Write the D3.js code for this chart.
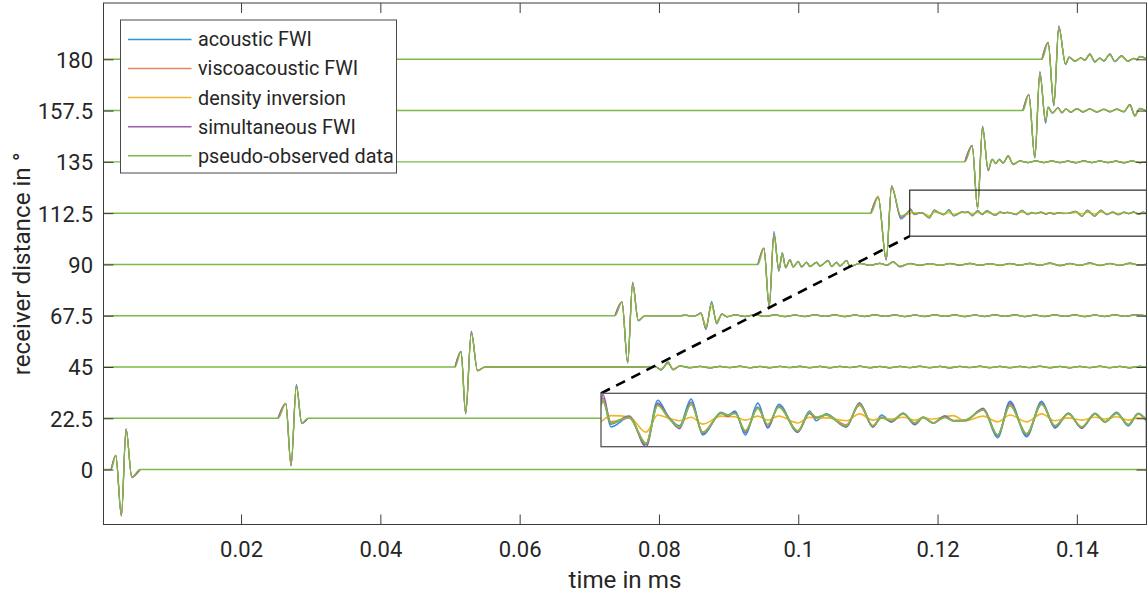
<!DOCTYPE html>
<html>
<head>
<meta charset="utf-8">
<script src="https://cdn.jsdelivr.net/npm/d3@7"></script>
<style>
  html, body { margin: 0; padding: 0; background: #fff; }
  svg { display: block; font-family: Roboto, "Liberation Sans", sans-serif; }
</style>
</head>
<body>
<svg id="chart" width="1147" height="601"></svg>
<script>
// ---------------------------------------------------------------------------
// Seismogram comparison: traces recorded at receivers 0..180 degrees.
// Each trace table row: [time (ms), acoustic, viscoacoustic, density,
//                        simultaneous, pseudo-observed] amplitudes.
// Amplitudes are in trace units; ampScale converts them to degrees of offset.
// ---------------------------------------------------------------------------
const seriesNames = ["acoustic FWI", "viscoacoustic FWI", "density inversion",
                     "simultaneous FWI", "pseudo-observed data"];
const seriesColors = ["#2d93dc", "#e8865e", "#f2b428", "#9c5bb0", "#7dba48"];

const offsets = [0, 22.5, 45, 67.5, 90, 112.5, 135, 157.5, 180];
const yTicks = [0, 22.5, 45, 67.5, 90, 112.5, 135, 157.5, 180];
const xTicks = [0.02, 0.04, 0.06, 0.08, 0.1, 0.12, 0.14];
const timeRange = [0.00025, 0.15];
const offsetRange = [-24.1, 204.7];
const ampScale = 0.439;

const trace0 = [
  [0.00025, 0, 0, 0, 0, 0],
  [0.00134, 0, 0, 0, 0, 0],
  [0.00201, 14.2, 14, 14.5, 14, 14],
  [0.00282, -46.5, -46, -46, -46.2, -46],
  [0.00349, 41, 40, 40, 40.5, 40],
  [0.00431, -7.7, -7.5, -7, -7.5, -7.5],
  [0.00550, 0, 0, 0, 0, 0],
  [0.15, 0, 0, 0, 0, 0]
];

const trace22_5 = [
  [0.00025, 0, 0, 0, 0, 0],
  [0.02531, 0, 0, 0, 0, 0],
  [0.02642, 15, 14.7, 15, 14.7, 14.7],
  [0.02718, -47.5, -47, -47, -47.2, -47],
  [0.02794, 34, 32.5, 32, 33, 32],
  [0.02871, -5, -4.7, -4.5, -4.8, -4.7],
  [0.02962, 0, 0, 0, 0, 0],
  [0.15, 0, 0, 0, 0, 0]
];

const trace45 = [
  [0.00025, 0, 0, 0, 0, 0],
  [0.05072, 0, 0, 0, 0, 0],
  [0.05158, 15.6, 15.3, 15.6, 15.4, 15.3],
  [0.05225, -47, -46.2, -46, -46.5, -46],
  [0.05306, 36, 34.2, 33.5, 34.8, 34],
  [0.05395, -4, -3.6, -3.2, -3.7, -3.5],
  [0.05502, 0, 0, 0, 0, 0],
  [0.07727, 0, 0, 0, 0, 0],
  [0.07943, 0.6, 0.5, 0.5, 0.5, 0.5],
  [0.08030, -3.2, -2.6, -1.8, -2.8, -2.5],
  [0.08131, 5.2, 4.4, 3, 4.7, 4.3],
  [0.08203, -2.9, -2.5, -1.6, -2.7, -2.5],
  [0.08301, 1.2, 1, 0.9, 1, 1],
  [0.08445, -0.9, -0.6, -0.2, -0.7, -0.6],
  [0.08589, 0.8, 0.6, 0.6, 0.7, 0.6],
  [0.08732, -1.0, -0.8, -0.3, -0.8, -0.7],
  [0.08876, 0.7, 0.6, 0.7, 0.6, 0.5],
  [0.09019, -0.7, -0.5, -0.4, -0.6, -0.5],
  [0.09163, 0.9, 0.7, 0.3, 0.8, 0.7],
  [0.09306, -0.8, -0.6, -0.5, -0.7, -0.6],
  [0.09450, 0.6, 0.5, 0.6, 0.5, 0.5],
  [0.09593, -0.9, -0.7, -0.2, -0.7, -0.6],
  [0.09737, 0.8, 0.6, 0.5, 0.6, 0.6],
  [0.09880, -0.6, -0.5, -0.5, -0.5, -0.5],
  [0.10024, 0.9, 0.7, 0.4, 0.7, 0.6],
  [0.10168, -0.8, -0.6, -0.3, -0.7, -0.6],
  [0.10311, 0.7, 0.6, 0.6, 0.6, 0.5],
  [0.10455, -0.9, -0.7, -0.4, -0.8, -0.7],
  [0.10598, 0.8, 0.6, 0.3, 0.7, 0.6],
  [0.10742, -0.6, -0.5, -0.5, -0.5, -0.4],
  [0.10885, 0.9, 0.7, 0.5, 0.8, 0.7],
  [0.11029, -0.8, -0.6, -0.2, -0.7, -0.6],
  [0.11172, 0.6, 0.5, 0.6, 0.5, 0.5],
  [0.11316, -0.9, -0.7, -0.4, -0.8, -0.7],
  [0.11459, 0.8, 0.7, 0.4, 0.7, 0.6],
  [0.11603, -0.7, -0.6, -0.5, -0.6, -0.5],
  [0.11746, 0.9, 0.7, 0.3, 0.8, 0.7],
  [0.11890, -0.8, -0.6, -0.4, -0.7, -0.6],
  [0.12034, 0.7, 0.5, 0.6, 0.6, 0.5],
  [0.12177, -1.0, -0.8, -0.3, -0.8, -0.7],
  [0.12321, 0.8, 0.6, 0.5, 0.7, 0.6],
  [0.12464, -0.6, -0.5, -0.5, -0.5, -0.5],
  [0.12608, 0.9, 0.7, 0.4, 0.8, 0.7],
  [0.12751, -0.8, -0.7, -0.2, -0.7, -0.6],
  [0.12895, 0.7, 0.6, 0.6, 0.6, 0.5],
  [0.13038, -0.9, -0.7, -0.4, -0.7, -0.6],
  [0.13182, 0.8, 0.6, 0.3, 0.7, 0.6],
  [0.13325, -0.7, -0.5, -0.5, -0.6, -0.5],
  [0.13469, 0.9, 0.7, 0.5, 0.8, 0.7],
  [0.13613, -0.8, -0.6, -0.3, -0.7, -0.6],
  [0.13756, 0.6, 0.5, 0.6, 0.5, 0.5],
  [0.13900, -0.9, -0.7, -0.4, -0.8, -0.7],
  [0.14043, 0.8, 0.6, 0.4, 0.7, 0.6],
  [0.14187, -0.7, -0.6, -0.5, -0.6, -0.5],
  [0.14330, 0.9, 0.7, 0.3, 0.8, 0.7],
  [0.14474, -0.8, -0.6, -0.4, -0.7, -0.6],
  [0.14617, 0.7, 0.5, 0.6, 0.6, 0.5],
  [0.14761, -0.9, -0.7, -0.3, -0.8, -0.7],
  [0.14904, 0.8, 0.6, 0.5, 0.7, 0.6],
  [0.15, 0, 0, 0, 0, 0]
];

const trace67_5 = [
  [0.00025, 0, 0, 0, 0, 0],
  [0.07368, 0, 0, 0, 0, 0],
  [0.07469, 14, 13.6, 14, 13.8, 13.6],
  [0.07551, -47.5, -46.7, -46.5, -47, -46.7],
  [0.07622, 33.5, 32, 31, 32.5, 31.6],
  [0.07703, -5.2, -4.7, -4.3, -4.8, -4.7],
  [0.07799, 0, 0, 0, 0, 0],
  [0.08301, 0, 0, 0, 0, 0],
  [0.08388, 0.7, 0.5, 0.3, 0.6, 0.5],
  [0.08474, -0.8, -0.6, -0.2, -0.6, -0.5],
  [0.08545, 0.6, 0.5, 0.4, 0.5, 0.5],
  [0.08603, 2.8, 2.6, 2, 2.7, 2.6],
  [0.08675, -14, -12.2, -9.5, -13, -12.2],
  [0.08756, 14.5, 12.3, 9, 13.2, 12.4],
  [0.08828, -8.2, -7.2, -5, -7.6, -7.3],
  [0.08904, 1.8, 1.5, 1.2, 1.6, 1.5],
  [0.08976, -1.2, -1, -0.6, -1.1, -1],
  [0.09091, 1.0, 0.8, 0.5, 0.9, 0.8],
  [0.09234, -0.9, -0.7, -0.4, -0.8, -0.7],
  [0.09378, 1.1, 0.9, 0.6, 1.0, 0.9],
  [0.09521, -0.8, -0.7, -0.3, -0.7, -0.6],
  [0.09665, 0.9, 0.7, 0.6, 0.8, 0.7],
  [0.09809, -1.0, -0.8, -0.4, -0.9, -0.8],
  [0.09952, 0.8, 0.7, 0.4, 0.7, 0.6],
  [0.10096, -0.9, -0.7, -0.5, -0.8, -0.7],
  [0.10239, 1.0, 0.8, 0.5, 0.9, 0.8],
  [0.10383, -0.8, -0.6, -0.3, -0.7, -0.6],
  [0.10526, 0.9, 0.7, 0.6, 0.8, 0.7],
  [0.10670, -1.0, -0.8, -0.4, -0.9, -0.8],
  [0.10813, 0.8, 0.6, 0.5, 0.7, 0.6],
  [0.10957, -0.9, -0.7, -0.3, -0.8, -0.7],
  [0.11100, 1.0, 0.8, 0.6, 0.9, 0.8],
  [0.11244, -0.8, -0.7, -0.4, -0.7, -0.6],
  [0.11388, 0.9, 0.7, 0.4, 0.8, 0.7],
  [0.11531, -1.0, -0.8, -0.5, -0.9, -0.8],
  [0.11675, 0.8, 0.6, 0.5, 0.7, 0.6],
  [0.11818, -0.9, -0.7, -0.3, -0.8, -0.7],
  [0.11962, 1.0, 0.8, 0.6, 0.9, 0.8],
  [0.12105, -0.8, -0.6, -0.4, -0.7, -0.6],
  [0.12249, 0.9, 0.7, 0.5, 0.8, 0.7],
  [0.12392, -1.0, -0.8, -0.4, -0.9, -0.8],
  [0.12536, 0.8, 0.7, 0.5, 0.7, 0.6],
  [0.12679, -0.9, -0.7, -0.3, -0.8, -0.7],
  [0.12823, 1.0, 0.8, 0.6, 0.9, 0.8],
  [0.12966, -0.8, -0.6, -0.4, -0.7, -0.6],
  [0.13110, 0.9, 0.7, 0.4, 0.8, 0.7],
  [0.13254, -1.0, -0.8, -0.5, -0.9, -0.8],
  [0.13397, 0.8, 0.6, 0.5, 0.7, 0.6],
  [0.13541, -0.9, -0.7, -0.3, -0.8, -0.7],
  [0.13684, 1.0, 0.8, 0.6, 0.9, 0.8],
  [0.13828, -0.8, -0.7, -0.4, -0.7, -0.6],
  [0.13971, 0.9, 0.7, 0.5, 0.8, 0.7],
  [0.14115, -1.0, -0.8, -0.4, -0.9, -0.8],
  [0.14258, 0.8, 0.6, 0.5, 0.7, 0.6],
  [0.14402, -0.9, -0.7, -0.3, -0.8, -0.7],
  [0.14545, 1.0, 0.8, 0.6, 0.9, 0.8],
  [0.14689, -0.8, -0.6, -0.4, -0.7, -0.6],
  [0.14833, 0.9, 0.7, 0.5, 0.8, 0.7],
  [0.15, 0, 0, 0, 0, 0]
];

const trace90 = [
  [0.00025, 0, 0, 0, 0, 0],
  [0.09421, 0, 0, 0, 0, 0],
  [0.09507, 16.3, 16, 16.5, 16.1, 16],
  [0.09583, -43, -42, -41.5, -42.3, -42],
  [0.09651, 33, 30.5, 29.5, 31, 30],
  [0.09722, -7, -6, -5.5, -6.3, -5.7],
  [0.09770, 11.8, 11, 9.5, 11.3, 11],
  [0.09819, -3.5, -3, -2.5, -3.2, -3],
  [0.09880, 4.8, 4.3, 3.8, 4.5, 4.3],
  [0.09928, -2.7, -2.3, -1.8, -2.5, -2.3],
  [0.09999, 3.1, 2.7, 2.5, 2.9, 2.7],
  [0.10048, -2.7, -2.3, -1.7, -2.4, -2.3],
  [0.10120, 2.4, 2, 1.9, 2.2, 2],
  [0.10168, -2.3, -2, -1.4, -2.1, -2],
  [0.10264, 2.4, 2, 1.8, 2.1, 2],
  [0.10311, -1.8, -1.5, -1.2, -1.6, -1.5],
  [0.10430, 4.1, 3.7, 3.2, 3.9, 3.7],
  [0.10479, -2.3, -2, -1.5, -2.1, -2],
  [0.10551, 2.3, 2, 1.8, 2.1, 2],
  [0.10598, -1.8, -1.5, -1.2, -1.6, -1.5],
  [0.10694, 4.1, 3.7, 3.2, 3.9, 3.7],
  [0.10742, -2.3, -2, -1.5, -2.1, -2],
  [0.10885, 1.2, 1, 0.8, 1.1, 1],
  [0.11029, -1, -0.8, -0.5, -0.9, -0.8],
  [0.11172, 1.2, 1, 0.9, 1.1, 1],
  [0.11273, -0.9, -0.7, -0.5, -0.8, -0.7],
  [0.11363, 2.9, 2.5, 2, 2.7, 2.5],
  [0.11459, -2.6, -2, -1.4, -2.2, -2],
  [0.11603, 1.0, 0.8, 0.6, 0.9, 0.8],
  [0.11746, -1.0, -0.8, -0.4, -0.9, -0.8],
  [0.11890, 0.9, 0.7, 0.5, 0.8, 0.7],
  [0.12034, -1.1, -0.9, -0.5, -1.0, -0.9],
  [0.12177, 1.0, 0.8, 0.6, 0.9, 0.8],
  [0.12321, -0.9, -0.7, -0.4, -0.8, -0.7],
  [0.12464, 1.2, 1.0, 0.6, 1.1, 1.0],
  [0.12608, -1.0, -0.8, -0.5, -0.9, -0.8],
  [0.12751, 0.9, 0.7, 0.5, 0.8, 0.7],
  [0.12895, -1.1, -0.9, -0.4, -1.0, -0.9],
  [0.13038, 1.0, 0.8, 0.6, 0.9, 0.8],
  [0.13182, -0.9, -0.7, -0.5, -0.8, -0.7],
  [0.13325, 1.2, 1.0, 0.5, 1.1, 1.0],
  [0.13469, -1.0, -0.8, -0.4, -0.9, -0.8],
  [0.13613, 1.4, 1.2, 0.7, 1.3, 1.2],
  [0.13756, -1.3, -1.1, -0.5, -1.2, -1.1],
  [0.13900, 1.0, 0.8, 0.6, 0.9, 0.8],
  [0.14043, -1.1, -0.9, -0.4, -1.0, -0.9],
  [0.14187, 1.5, 1.2, 0.7, 1.3, 1.2],
  [0.14330, -1.2, -1.0, -0.5, -1.1, -1.0],
  [0.14474, 1.0, 0.8, 0.5, 0.9, 0.8],
  [0.14617, -1.1, -0.9, -0.4, -1.0, -0.9],
  [0.14761, 1.3, 1.1, 0.6, 1.2, 1.1],
  [0.14904, -1.0, -0.8, -0.5, -0.9, -0.8],
  [0.15, 0.3, 0.2, 0.1, 0.2, 0.2]
];

// Trace 112.5 up to the start of the magnified window
const trace112_5 = [
  [0.00025, 0, 0, 0, 0, 0],
  [0.11043, 0, 0, 0, 0, 0],
  [0.11148, 16.2, 16, 17, 16.1, 16],
  [0.11263, -47, -46.5, -46, -46.7, -46.5],
  [0.11340, 27.5, 26.3, 27, 26.5, 26],
  [0.11474, -6, -4, -3, -4.5, -3]
];

// Trace 112.5 inside the magnified window (0.116 - 0.15 ms)
const zoom112_5 = [
  [0.11600, 2.8, 3.0, -0.5, 3.3, 2.4],
  [0.11612, 3.7, 3.5, -0.2, 4.3, 3.1],
  [0.11662, -1.4, -0.5, 0.6, -0.9, -0.7],
  [0.11775, 0.3, 0.2, 0.4, 0.5, 0.3],
  [0.11881, -4.5, -4.3, -2.3, -4.9, -4.3],
  [0.11954, 3.3, 2.6, 0.7, 2.8, 2.4],
  [0.12018, 0.5, 0.3, 0.2, 0.5, 0.3],
  [0.12089, -1.2, -1.4, -0.3, -1.7, -1.4],
  [0.12162, 3.5, 2.6, 0.3, 3.0, 2.6],
  [0.12235, -2.8, -2.3, -0.9, -2.6, -2.4],
  [0.12349, 1.2, 1.0, 0.5, 1.0, 1.0],
  [0.12392, 0.7, 0.7, 0.4, 0.5, 0.7],
  [0.12436, 1.4, 1.0, 0.4, 1.2, 1.0],
  [0.12500, -2.8, -2.1, -0.2, -2.4, -2.1],
  [0.12578, 2.8, 1.9, 0.5, 2.1, 1.9],
  [0.12640, -1.6, -1.0, -0.2, -1.4, -1.0],
  [0.12709, 2.6, 2.1, 0.5, 2.3, 2.1],
  [0.12827, -2.3, -2.1, -0.7, -2.3, -2.1],
  [0.12900, 1.4, 1.0, 0.3, 1.0, 1.2],
  [0.12942, -0.3, 0.3, 0.2, 0.2, 0.3],
  [0.13004, 0.9, 0.7, 0.2, 0.7, 0.7],
  [0.13129, -1.4, -1.0, -0.3, -1.4, -1.2],
  [0.13212, 2.8, 2.4, 0.9, 2.8, 2.6],
  [0.13295, -1.4, -1.2, -0.2, -1.4, -1.2],
  [0.13349, 0.7, 0.3, 0.2, 0.3, 0.2],
  [0.13411, -0.5, -0.3, 0.0, -0.5, -0.3],
  [0.13484, 1.0, 0.9, 0.3, 1.0, 0.9],
  [0.13557, -1.0, -0.7, -0.2, -0.9, -0.7],
  [0.13609, 0.3, 0.3, 0.2, 0.3, 0.3],
  [0.13671, -0.7, -0.7, 0.0, -0.7, -0.7],
  [0.13744, 0.5, 0.3, 0.4, 0.5, 0.3],
  [0.13796, -0.3, -0.3, 0.6, -0.3, -0.3],
  [0.13871, -0.2, -0.2, -0.35, -0.3, -0.2],
  [0.13983, 1.7, 1.6, 0.5, 1.9, 1.6],
  [0.14073, -3.3, -2.8, -0.5, -3.0, -2.8],
  [0.14150, 3.1, 2.4, 0.7, 2.8, 2.4],
  [0.14254, -3.1, -2.6, -0.5, -2.8, -2.6],
  [0.14347, 3.1, 2.6, 0.9, 2.8, 2.6],
  [0.14431, -1.6, -1.2, -0.3, -1.4, -1.2],
  [0.14514, 1.0, 0.9, 0.2, 1.0, 0.9],
  [0.14597, -1.6, -1.4, -0.2, -1.6, -1.4],
  [0.14680, 1.0, 0.9, 0.3, 0.9, 0.9],
  [0.14743, -0.5, -0.5, 0.0, -0.5, -0.5],
  [0.14815, 1.2, 1.0, 0.4, 1.0, 1.0],
  [0.14888, -1.2, -1.0, -0.2, -1.0, -1.0],
  [0.14950, 1.0, 0.9, 0.2, 0.9, 0.9],
  [0.15000, -0.2, -0.2, 0.0, -0.2, -0.2]
];

const trace135 = [
  [0.00025, 0, 0, 0, 0, 0],
  [0.12392, 0, 0, 0, 0, 0],
  [0.12497, 16.5, 16, 16.3, 16.2, 16],
  [0.12575, -46.5, -46, -45.5, -46.2, -46],
  [0.12646, 35.7, 34.5, 33.5, 35, 34],
  [0.12727, -9, -8, -7, -8.3, -7.5],
  [0.12784, 2.7, 2.4, 2.2, 2.5, 2.4],
  [0.12837, -1.9, -1.6, -1.2, -1.7, -1.6],
  [0.12885, 2.7, 2.4, 2.2, 2.5, 2.4],
  [0.12942, -1.3, -1, -0.8, -1.1, -1],
  [0.13014, 6.2, 5.7, 5, 5.9, 5.7],
  [0.13086, -2.7, -2.3, -1.8, -2.5, -2.3],
  [0.13182, 1.0, 0.8, 0.6, 0.9, 0.8],
  [0.13297, -0.9, -0.8, -0.4, -0.8, -0.7],
  [0.13411, 1.1, 0.9, 0.6, 1.0, 0.9],
  [0.13526, -0.8, -0.7, -0.4, -0.7, -0.6],
  [0.13641, 1.0, 0.8, 0.5, 0.9, 0.8],
  [0.13756, -0.9, -0.7, -0.5, -0.8, -0.7],
  [0.13871, 0.9, 0.8, 0.6, 0.8, 0.7],
  [0.13986, -1.0, -0.8, -0.4, -0.9, -0.8],
  [0.14100, 1.1, 0.9, 0.5, 1.0, 0.9],
  [0.14215, -0.8, -0.7, -0.4, -0.7, -0.6],
  [0.14330, 1.0, 0.8, 0.6, 0.9, 0.8],
  [0.14445, -0.9, -0.7, -0.3, -0.8, -0.7],
  [0.14560, 0.9, 0.7, 0.5, 0.8, 0.7],
  [0.14675, -1.0, -0.8, -0.5, -0.9, -0.8],
  [0.14789, 1.0, 0.8, 0.6, 0.9, 0.8],
  [0.14904, -0.8, -0.7, -0.4, -0.7, -0.6],
  [0.15, 0.2, 0.2, 0.1, 0.2, 0.2]
];

const trace157_5 = [
  [0.00025, 0, 0, 0, 0, 0],
  [0.13225, 0, 0, 0, 0, 0],
  [0.13311, 16, 15.7, 16, 15.8, 15.7],
  [0.13397, -47.5, -46.7, -46, -47, -46.7],
  [0.13469, 39.3, 37.5, 36.5, 38, 37],
  [0.13551, -12.7, -10.8, -9.5, -11.5, -10],
  [0.13588, 3.6, 3.3, 3, 3.4, 3.3],
  [0.13648, -2.6, -2.3, -1.8, -2.4, -2.3],
  [0.13731, 3.0, 2.7, 2.4, 2.8, 2.7],
  [0.13785, -2.3, -2, -1.5, -2.1, -2],
  [0.13842, 1.8, 1.5, 1.3, 1.6, 1.5],
  [0.13914, -1.8, -1.5, -1.1, -1.6, -1.5],
  [0.14000, 2.1, 1.8, 1.5, 1.9, 1.8],
  [0.14086, -1.5, -1.2, -0.9, -1.3, -1.2],
  [0.14187, 1.8, 1.5, 1.3, 1.6, 1.5],
  [0.14287, -1.6, -1.3, -1, -1.4, -1.3],
  [0.14388, 1.5, 1.2, 1, 1.3, 1.2],
  [0.14474, -1.3, -1, -0.8, -1.1, -1],
  [0.14574, 1.6, 1.3, 1, 1.4, 1.3],
  [0.14675, -1.3, -1, -0.7, -1.1, -1],
  [0.14761, 6.2, 5.7, 4.6, 5.9, 5.7],
  [0.14833, -5.5, -5, -4, -5.2, -5],
  [0.14904, 2.2, 2, 1.5, 2.1, 2],
  [0.15, -0.6, -0.5, -0.3, -0.5, -0.5]
];

const trace180 = [
  [0.00025, 0, 0, 0, 0, 0],
  [0.13498, 0, 0, 0, 0, 0],
  [0.13588, 16.9, 16.6, 17, 16.7, 16.6],
  [0.13670, -46.5, -45.7, -45.3, -46, -45.7],
  [0.13741, 33.5, 32.3, 31.5, 32.8, 32],
  [0.13838, -5.3, -4.7, -4.2, -5, -4.7],
  [0.13889, 2.3, 2, 1.8, 2.1, 2],
  [0.13971, -2.1, -1.8, -1.3, -1.9, -1.8],
  [0.14057, 1.5, 1.2, 1, 1.3, 1.2],
  [0.14115, -1, -0.8, -0.5, -0.9, -0.8],
  [0.14187, 5.5, 5, 4.2, 5.2, 5],
  [0.14258, -2.8, -2.4, -1.8, -2.6, -2.4],
  [0.14330, 1.2, 1, 0.9, 1.1, 1],
  [0.14388, -1.8, -1.5, -1.1, -1.6, -1.5],
  [0.14474, 5.5, 5, 4.2, 5.2, 5],
  [0.14545, -2.4, -2, -1.5, -2.2, -2],
  [0.14642, 3.7, 3.3, 2.7, 3.5, 3.3],
  [0.14732, -2.1, -1.8, -1.3, -1.9, -1.8],
  [0.14818, 1, 0.8, 0.7, 0.9, 0.8],
  [0.14861, -0.5, -0.3, -0.1, -0.4, -0.3],
  [0.14904, 3, 2.7, 2.2, 2.8, 2.7],
  [0.15, 0.6, 0.5, 0.4, 0.5, 0.5]
];

// Magnified window: time span, offset span marked in the main axes,
// and amplitude limits of the inset axes.
const zoomTimeRange = [0.116, 0.15];
const zoomOffsetRange = [102.4, 122.6];
const zoomAmpRange = [-4.87, 4.52];

// ---------------------------------------------------------------------------
const svg = d3.select("#chart");
const plot = { left: 103.5, right: 1146.5, top: 3, bottom: 524.5 };
const inset = { left: 601, right: 1146.3, top: 393.3, bottom: 446.7 };
const axisColor = "#3c3c3c";
const textColor = "#262626";
const mainWidths = [1.15, 1.15, 1.15, 1.15, 1.45];
const insetWidths = [1.6, 1.6, 1.6, 1.6, 1.8];
const observedIndex = seriesNames.length - 1;

const x = d3.scaleLinear().domain(timeRange).range([plot.left, plot.right]);
const y = d3.scaleLinear().domain(offsetRange).range([plot.bottom, plot.top]);
const ix = d3.scaleLinear().domain(zoomTimeRange).range([inset.left, inset.right]);
const iy = d3.scaleLinear().domain(zoomAmpRange).range([inset.bottom, inset.top]);

const defs = svg.append("defs");
defs.append("clipPath").attr("id", "plotClip").append("rect")
  .attr("x", plot.left).attr("y", plot.top)
  .attr("width", plot.right - plot.left).attr("height", plot.bottom - plot.top);
defs.append("clipPath").attr("id", "insetClip").append("rect")
  .attr("x", inset.left).attr("y", inset.top)
  .attr("width", inset.right - inset.left).attr("height", inset.bottom - inset.top);

const traces = [trace0, trace22_5, trace45, trace67_5, trace90,
                trace112_5.concat(zoom112_5), trace135, trace157_5, trace180];

// Where all series are silent they coincide with the observed trace, so the
// comparison curves are only stroked between the first and last arrivals.
function activeSpan(rows) {
  const live = r => r.slice(1).some(v => v !== 0);
  let a = rows.findIndex(live);
  let b = rows.length - 1;
  while (b > 0 && !live(rows[b])) b--;
  if (a < 0) return [];
  return rows.slice(Math.max(a - 1, 0), Math.min(b + 2, rows.length));
}
function quietTail(rows) {
  // trailing silent stretch after the last arrival (trace 0 and 22.5)
  let b = rows.length - 1;
  while (b > 0 && rows[b].slice(1).every(v => v === 0)) b--;
  return rows.slice(0, b + 2);
}

// Main seismogram: every series over all receivers, observed data on top
const gTraces = svg.append("g").attr("clip-path", "url(#plotClip)");
seriesNames.forEach((name, k) => {
  traces.forEach((rows, i) => {
    const line = d3.line()
      .x(r => x(r[0]))
      .y(r => y(offsets[i] + ampScale * r[k + 1]))
      .curve(d3.curveMonotoneX);
    let data = k === observedIndex ? rows : activeSpan(quietTail(rows));
    gTraces.append("path")
      .attr("d", line(data))
      .attr("fill", "none")
      .attr("stroke", seriesColors[k])
      .attr("stroke-width", mainWidths[k])
      .attr("stroke-linejoin", "round");
  });
});

// Window marked on the 112.5 degree trace
svg.append("rect")
  .attr("x", x(zoomTimeRange[0])).attr("y", y(zoomOffsetRange[1]))
  .attr("width", x(zoomTimeRange[1]) - x(zoomTimeRange[0]))
  .attr("height", y(zoomOffsetRange[0]) - y(zoomOffsetRange[1]))
  .attr("fill", "none").attr("stroke", "#2b2b2b").attr("stroke-width", 1.2);

// Connector from the inset to the marked window
svg.append("line")
  .attr("x1", inset.left).attr("y1", inset.top)
  .attr("x2", x(zoomTimeRange[0])).attr("y2", y(zoomOffsetRange[0]))
  .attr("stroke", "#000").attr("stroke-width", 2.6)
  .attr("stroke-dasharray", "10,7");

// Inset axes with the magnified 112.5 degree trace
const gInset = svg.append("g");
gInset.append("rect")
  .attr("x", inset.left).attr("y", inset.top)
  .attr("width", inset.right - inset.left).attr("height", inset.bottom - inset.top)
  .attr("fill", "#fff");
const gInsetLines = gInset.append("g").attr("clip-path", "url(#insetClip)");
const zoomRows = trace112_5.concat(zoom112_5);
seriesNames.forEach((name, k) => {
  const line = d3.line()
    .x(r => ix(r[0]))
    .y(r => iy(r[k + 1]))
    .curve(d3.curveMonotoneX);
  gInsetLines.append("path")
    .attr("d", line(zoomRows))
    .attr("fill", "none")
    .attr("stroke", seriesColors[k])
    .attr("stroke-width", insetWidths[k])
    .attr("stroke-linejoin", "round");
});
gInset.append("rect")
  .attr("x", inset.left).attr("y", inset.top)
  .attr("width", inset.right - inset.left).attr("height", inset.bottom - inset.top)
  .attr("fill", "none").attr("stroke", "#555").attr("stroke-width", 1.3);

// Axes: ticks point inwards on all four sides, labels on bottom and left
const fmtX = d3.format("~g");
const fmtY = d3.format("~g");
function styleAxis(g) {
  g.select(".domain").remove();
  g.selectAll(".tick line").attr("stroke", axisColor).attr("stroke-width", 1);
  g.selectAll(".tick text").attr("fill", textColor)
    .style("font-family", "Roboto, sans-serif").style("font-size", "22px");
}
svg.append("g").attr("transform", `translate(0,${plot.bottom})`)
  .call(d3.axisBottom(x).tickValues(xTicks).tickFormat(fmtX)
        .tickSizeInner(-10).tickSizeOuter(0).tickPadding(16.5))
  .call(styleAxis);
svg.append("g").attr("transform", `translate(0,${plot.top})`)
  .call(d3.axisTop(x).tickValues(xTicks).tickFormat("")
        .tickSizeInner(-10).tickSizeOuter(0))
  .call(styleAxis);
svg.append("g").attr("transform", `translate(${plot.left},0)`)
  .call(d3.axisLeft(y).tickValues(yTicks).tickFormat(fmtY)
        .tickSizeInner(-10).tickSizeOuter(0).tickPadding(10.5))
  .call(styleAxis)
  .selectAll(".tick text").attr("dy", "0.36em");
svg.append("g").attr("transform", `translate(${plot.right},0)`)
  .call(d3.axisRight(y).tickValues(yTicks).tickFormat("")
        .tickSizeInner(-10).tickSizeOuter(0))
  .call(styleAxis);

// Frame
svg.append("rect")
  .attr("x", plot.left).attr("y", plot.top)
  .attr("width", plot.right - plot.left).attr("height", plot.bottom - plot.top)
  .attr("fill", "none").attr("stroke", axisColor).attr("stroke-width", 1);

// Axis titles
svg.append("text")
  .attr("x", (plot.left + plot.right) / 2).attr("y", 588)
  .attr("text-anchor", "middle").attr("fill", textColor)
  .style("font-size", "24.2px")
  .text("time in ms");
svg.append("text")
  .attr("transform", `translate(30,${(plot.top + plot.bottom) / 2}) rotate(-90)`)
  .attr("text-anchor", "middle").attr("fill", textColor)
  .style("font-size", "24.2px")
  .text("receiver distance in °");

// Legend
const legend = { x: 120.5, y: 20, w: 276, h: 153, row0: 39.5, rowStep: 29.05 };
const gLegend = svg.append("g");
gLegend.append("rect")
  .attr("x", legend.x).attr("y", legend.y)
  .attr("width", legend.w).attr("height", legend.h)
  .attr("fill", "#fff").attr("stroke", "#4a4a4a").attr("stroke-width", 1);
seriesNames.forEach((name, k) => {
  const ry = legend.row0 + k * legend.rowStep;
  gLegend.append("line")
    .attr("x1", 128).attr("x2", 191.5).attr("y1", ry).attr("y2", ry)
    .attr("stroke", seriesColors[k]).attr("stroke-width", 1.5);
  gLegend.append("text")
    .attr("x", 198).attr("y", ry).attr("dy", "0.35em")
    .attr("fill", textColor).style("font-size", "19.8px")
    .text(name);
});
</script>
</body>
</html>
